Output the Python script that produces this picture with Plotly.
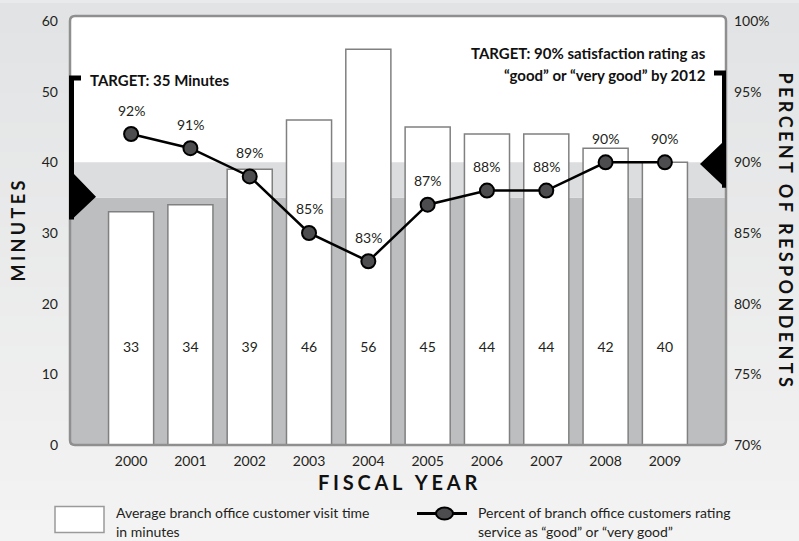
import plotly.graph_objects as go

# ---------------- data ----------------
years = ["2000", "2001", "2002", "2003", "2004", "2005", "2006", "2007", "2008", "2009"]
visit_minutes = [33, 34, 39, 46, 56, 45, 44, 44, 42, 40]
satisfaction_pct = [92, 91, 89, 85, 83, 87, 88, 88, 90, 90]
minute_ticks = [0, 10, 20, 30, 40, 50, 60]
percent_ticks = [70, 75, 80, 85, 90, 95, 100]
percent_tick_labels = ["70%", "75%", "80%", "85%", "90%", "95%", "100%"]
target_minutes = 35
target_percent = 90

# ---------------- layout helpers ----------------
W, H = 799, 541
L, R, T, B = 70, 726, 13, 445
Y_MAX = 60.7
FONT = "Lato, 'Open Sans', sans-serif"
TXT = "#231f20"
BG = "#e9eaeb"


def px(x):
    return (x - L) / (R - L)


def py(y):
    return (B - y) / (B - T)


def spaced(s, sep="\u2009"):
    return sep.join(list(s))


def note(x, y, text, size=14, color=TXT, xanchor="center", angle=0):
    return dict(x=px(x), y=py(y), xref="paper", yref="paper", showarrow=False,
                xanchor=xanchor, yanchor="middle", text=text, textangle=angle,
                font=dict(family=FONT, size=size, color=color))


fig = go.Figure()

fig.add_trace(go.Bar(
    x=years, y=visit_minutes, width=0.76,
    marker=dict(color="white", line=dict(color="#808080", width=1.5)),
    hoverinfo="skip", showlegend=False, yaxis="y",
))

fig.add_trace(go.Scatter(
    x=years, y=[13.6] * len(years), mode="text",
    text=[str(v) for v in visit_minutes],
    textfont=dict(family=FONT, size=14, color=TXT),
    hoverinfo="skip", showlegend=False, yaxis="y",
))

fig.add_trace(go.Scatter(
    x=years, y=satisfaction_pct, mode="lines+markers", yaxis="y2",
    line=dict(color="black", width=2.5),
    marker=dict(size=14, color="#4d4d4f", line=dict(color="black", width=2)),
    hoverinfo="skip", showlegend=False,
))

annotations = []
for i, p in enumerate(satisfaction_pct):
    annotations.append(dict(
        x=i, y=p, xref="x", yref="y2", yshift=24, showarrow=False,
        xanchor="center", yanchor="middle",
        text=f"{p}%", font=dict(family=FONT, size=14, color=TXT),
    ))

WIDE = "\u2009\u200a"
annotations += [
    note(18, 230, f"<b>{spaced('MINUTES', WIDE)}</b>", size=18, color="#111", angle=-90),
    note(786, 228, f"<b>{spaced('PERCENT OF RESPONDENTS', WIDE)}</b>", size=18, color="#111", angle=90),
    note(397, 482, f"<b>{spaced('FISCAL YEAR', WIDE)}</b>", size=20, color="#111"),
    note(88, 77, f"<b>TARGET: {target_minutes} Minutes</b>", size=15, color="#111", xanchor="left"),
    note(708, 50, f"<b>TARGET: {target_percent}% satisfaction rating as</b>", size=15, color="#111", xanchor="right"),
    note(708, 72, "<b>“good” or “very good” by 2012</b>", size=15, color="#111", xanchor="right"),
    note(114, 513, "Average branch office customer visit time", xanchor="left"),
    note(114, 532, "in minutes", xanchor="left"),
    note(476, 513, "Percent of branch office customers rating", xanchor="left"),
    note(476, 532, "service as “good” or “very good”", xanchor="left"),
]

r = 5


def P(x, y):
    return f"{px(x):.5f},{py(y):.5f}"


frame_path = (
    f"M {P(L, T + r)} Q {P(L, T)} {P(L + r, T)} L {P(R - r, T)} Q {P(R, T)} {P(R, T + r)} "
    f"L {P(R, B - r)} Q {P(R, B)} {P(R - r, B)} L {P(L + r, B)} Q {P(L, B)} {P(L, B - r)} Z"
)

# soft vertical gradient for the page background
shapes = []
N = 36
c_top = (226, 227, 228)
c_bot = (243, 243, 243)
for k in range(N):
    t = k / (N - 1)
    c = tuple(round(a + (b - a) * t) for a, b in zip(c_top, c_bot))
    y0 = k * H / N
    y1 = (k + 1) * H / N + 1
    shapes.append(dict(type="rect", xref="paper", yref="paper", x0=px(0), x1=px(W),
                       y0=py(y1), y1=py(y0), fillcolor=f"rgb{c}",
                       line=dict(width=0), layer="below"))

shapes += [
    dict(type="rect", xref="paper", yref="y", x0=0, x1=1, y0=0, y1=Y_MAX,
         fillcolor="white", line=dict(width=0), layer="below"),
    dict(type="rect", xref="paper", yref="y", x0=0, x1=1, y0=0, y1=target_minutes,
         fillcolor="#bcbec0", line=dict(width=0), layer="below"),
    dict(type="rect", xref="paper", yref="y", x0=0, x1=1, y0=target_minutes,
         y1=(target_percent - 70) * 2, fillcolor="#dcdddf", line=dict(width=0), layer="below"),
    dict(type="path", xref="paper", yref="paper", path=frame_path,
         line=dict(color="#8f8f90", width=2.5), layer="above"),
    dict(type="path", xref="paper", yref="paper",
         path=f"M {P(69, 73)} L {P(81, 73)} L {P(81, 78)} L {P(74, 78)} L {P(74, 172)} "
              f"L {P(96, 195)} L {P(74, 216)} L {P(74, 218)} L {P(69, 218)} Z",
         fillcolor="black", line=dict(width=0), layer="above"),
    dict(type="path", xref="paper", yref="paper",
         path=f"M {P(714, 68)} L {P(726, 68)} L {P(726, 186)} L {P(722, 186)} L {P(722, 183)} "
              f"L {P(700, 162)} L {P(722, 141)} L {P(722, 73)} L {P(714, 73)} Z",
         fillcolor="black", line=dict(width=0), layer="above"),
    dict(type="rect", xref="paper", yref="paper", x0=px(55), x1=px(104), y0=py(533), y1=py(507),
         fillcolor="white", line=dict(color="#9a9a9a", width=1.5)),
    dict(type="line", xref="paper", yref="paper", x0=px(417), x1=px(467), y0=py(514), y1=py(514),
         line=dict(color="black", width=3)),
    dict(type="circle", xref="paper", yref="paper", x0=px(436), x1=px(453), y0=py(520), y1=py(508),
         fillcolor="#4d4d4f", line=dict(color="black", width=2)),
]

fig.update_layout(
    width=W, height=H,
    margin=dict(l=L, r=W - R, t=T, b=H - B, pad=0),
    paper_bgcolor=BG, plot_bgcolor="white",
    font=dict(family=FONT, size=14, color=TXT),
    showlegend=False,
    xaxis=dict(type="category", range=[-1.03, 10.03], showgrid=False, zeroline=False,
               showline=False, ticks="", ticklabelstandoff=6,
               tickfont=dict(family=FONT, size=14, color=TXT)),
    yaxis=dict(range=[0, Y_MAX], tickvals=minute_ticks, showgrid=False, zeroline=False,
               showline=False, ticks="", ticklabelstandoff=11,
               tickfont=dict(family=FONT, size=14, color=TXT)),
    yaxis2=dict(range=[70, 70 + Y_MAX / 2], overlaying="y", side="right",
                tickvals=percent_ticks, ticktext=percent_tick_labels,
                showgrid=False, zeroline=False, showline=False, ticks="",
                ticklabelstandoff=7, tickfont=dict(family=FONT, size=14, color=TXT)),
    shapes=shapes,
    annotations=annotations,
)

fig.write_html(
    "out.html",
    config={"displayModeBar": False},
    post_script="document.body.style.margin='0';document.body.style.background='" + BG + "';",
)
